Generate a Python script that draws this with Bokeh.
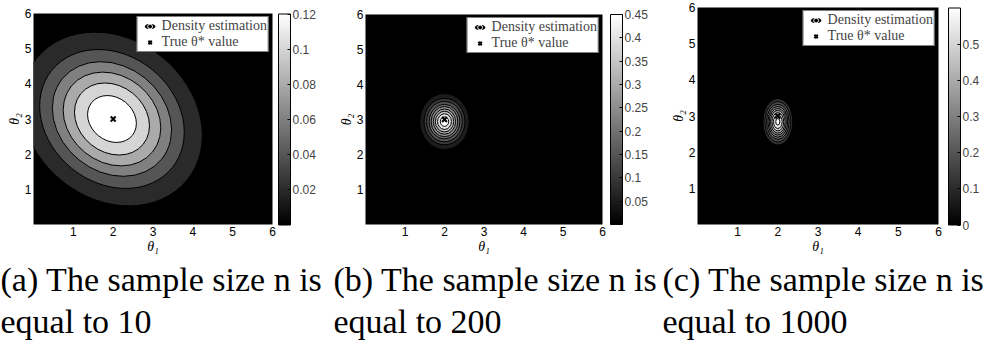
import numpy as np
from bokeh.plotting import figure
from bokeh.models import (ColumnDataSource, LinearColorMapper, ColorBar, FixedTicker,
                          CustomJSTickFormatter, Legend, LegendItem, Title, Range1d)
from bokeh.layouts import row, column
from bokeh.embed import file_html
from bokeh.resources import INLINE

# ---------------- data ----------------
theta_true_x = [2.0]
theta_true_y = [3.0]
axis_ticks = [1, 2, 3, 4, 5, 6]

# (a) n = 10 : contour levels and relative size of each level's contour
a_levels = [0.02, 0.04, 0.06, 0.08, 0.10, 0.12]
a_scale = [1.00, 0.80, 0.66, 0.54, 0.415, 0.27]
a_center = [1.97, 3.0]
a_outer = [4.86, 4.53]          # full width / height of outermost contour
a_tilt = -39                    # degrees
a_cmax = 0.12
a_cticks = [0.02, 0.04, 0.06, 0.08, 0.1, 0.12]

# (b) n = 200
b_levels = [0.05, 0.10, 0.15, 0.20, 0.25, 0.30, 0.35, 0.40, 0.45]
b_scale = [1.00, 0.83, 0.72, 0.62, 0.54, 0.45, 0.37, 0.28, 0.17]
b_center = [2.0, 2.94]
b_outer = [1.25, 1.60]
b_tilt = 0
b_cmax = 0.45
b_cticks = [0.05, 0.1, 0.15, 0.2, 0.25, 0.3, 0.35, 0.4, 0.45]

# (c) n = 1000
c_levels = [0.12, 0.18, 0.24, 0.30, 0.36, 0.42, 0.48, 0.54, 0.60]
c_scale = [1.00, 0.87, 0.76, 0.665, 0.575, 0.49, 0.395, 0.29, 0.14]
c_center = [2.0, 2.84]
c_outer = [0.74, 1.28]
c_tilt = 0
c_cmax = 0.60
c_cticks = [0, 0.1, 0.2, 0.3, 0.4, 0.5]

captions = [("(a) The sample size n is", "equal to 10"),
            ("(b) The sample size n is", "equal to 200"),
            ("(c) The sample size n is", "equal to 1000")]

legend_proxy_x = [-5.0]
legend_proxy_y = [-5.0]

GRAYS = ["#%02x%02x%02x" % (i, i, i) for i in range(256)]
TOTAL_H = 341


def make_panel(levels, scale, center, outer, tilt, cmax, cticks, caption,
               left, fw, top, fh, right, cb_gap, cap_offset):
    p = figure(x_range=Range1d(0, 6), y_range=Range1d(0, 6),
               frame_width=fw, frame_height=fh,
               min_border_left=left, min_border_right=right,
               min_border_top=top, min_border_bottom=TOTAL_H - top - fh,
               output_backend="svg", toolbar_location=None,
               background_fill_color="black", border_fill_color="white",
               outline_line_color=None)
    p.grid.visible = False

    mapper = LinearColorMapper(palette=GRAYS, low=0, high=cmax)
    n = len(levels)
    src = ColumnDataSource(dict(
        x=[center[0]] * n, y=[center[1]] * n,
        w=[outer[0] * s for s in scale], h=[outer[1] * s for s in scale],
        level=levels))
    p.ellipse(x="x", y="y", width="w", height="h", angle=np.deg2rad(tilt),
              source=src, fill_color={"field": "level", "transform": mapper},
              line_color="black", line_width=1)

    r_x = p.scatter(x=theta_true_x, y=theta_true_y, marker="x", size=7,
                    line_color="black", line_width=2)

    proxy = ColumnDataSource(dict(x=legend_proxy_x, y=legend_proxy_y))
    r_icon = p.ellipse(x="x", y="y", width=21, height=9, width_units="screen",
                       height_units="screen", source=proxy,
                       fill_color="black", line_color="black")
    r_ring = p.scatter(x="x", y="y", source=proxy, marker="circle", size=5,
                       fill_color=None, line_color="white", line_width=1)

    legend = Legend(items=[
        LegendItem(label="Density estimation", renderers=[r_icon, r_ring]),
        LegendItem(label="True θ* value", renderers=[r_x])],
        location="top_right", label_text_font="Liberation Serif",
        label_text_font_size="14px", glyph_height=12, glyph_width=22,
        label_height=12, label_standoff=1, spacing=0, padding=1, margin=3,
        border_line_color="black", border_line_width=1,
        background_fill_color="white", background_fill_alpha=1.0)
    p.add_layout(legend)

    for ax in (p.xaxis, p.yaxis):
        ax.ticker = FixedTicker(ticks=axis_ticks)
        ax.axis_line_color = None
        ax.major_tick_line_color = None
        ax.major_tick_out = 0
        ax.major_tick_in = 0
        ax.minor_tick_line_color = None
        ax.minor_tick_out = 0
        ax.major_label_text_font = "Liberation Sans"
        ax.major_label_text_font_size = "12px"
        ax.major_label_text_color = "black"
        ax.axis_label_text_font = "Liberation Serif"
        ax.axis_label_text_font_style = "italic"
        ax.axis_label_text_font_size = "14px"
        ax.axis_label_text_color = "black"
        ax.axis_label_standoff = 0
        ax.major_label_standoff = 2
    p.xaxis.axis_label = "θ₁"
    p.yaxis.axis_label = "θ₂"

    cb = ColorBar(color_mapper=mapper, ticker=FixedTicker(ticks=cticks),
                  formatter=CustomJSTickFormatter(code="return String(parseFloat(tick.toFixed(3)))"),
                  width=12, height=fh, padding=cb_gap, margin=0,
                  location="center_left",
                  major_label_text_font="Liberation Sans",
                  major_label_text_font_size="12px", label_standoff=2,
                  major_tick_line_color="black", major_tick_in=3, major_tick_out=0,
                  bar_line_color="black", border_line_color=None,
                  background_fill_alpha=0)
    p.add_layout(cb, "right")

    for i, txt in enumerate(caption):
        t = Title(text=txt, align="left", text_font="Liberation Serif",
                  text_font_size="34px", text_font_style="normal",
                  text_color="black", offset=cap_offset,
                  standoff=5 if i == 0 else 0)
        p.add_layout(t, "below")
    return p


p1 = make_panel(a_levels, a_scale, a_center, a_outer, a_tilt, a_cmax, a_cticks,
                captions[0], 33, 239, 13, 211, 58, 6, -33)
p2 = make_panel(b_levels, b_scale, b_center, b_outer, b_tilt, b_cmax, b_cticks,
                captions[1], 35, 237, 14, 210, 58, 8, -32)
p3 = make_panel(c_levels, c_scale, c_center, c_outer, c_tilt, c_cmax, c_cticks,
                captions[2], 37, 241, 7, 217, 49, 10, -35)

layout = row(column(p1), column(p2), column(p3), spacing=0)
open("out.html", "w").write(file_html(layout, INLINE))
